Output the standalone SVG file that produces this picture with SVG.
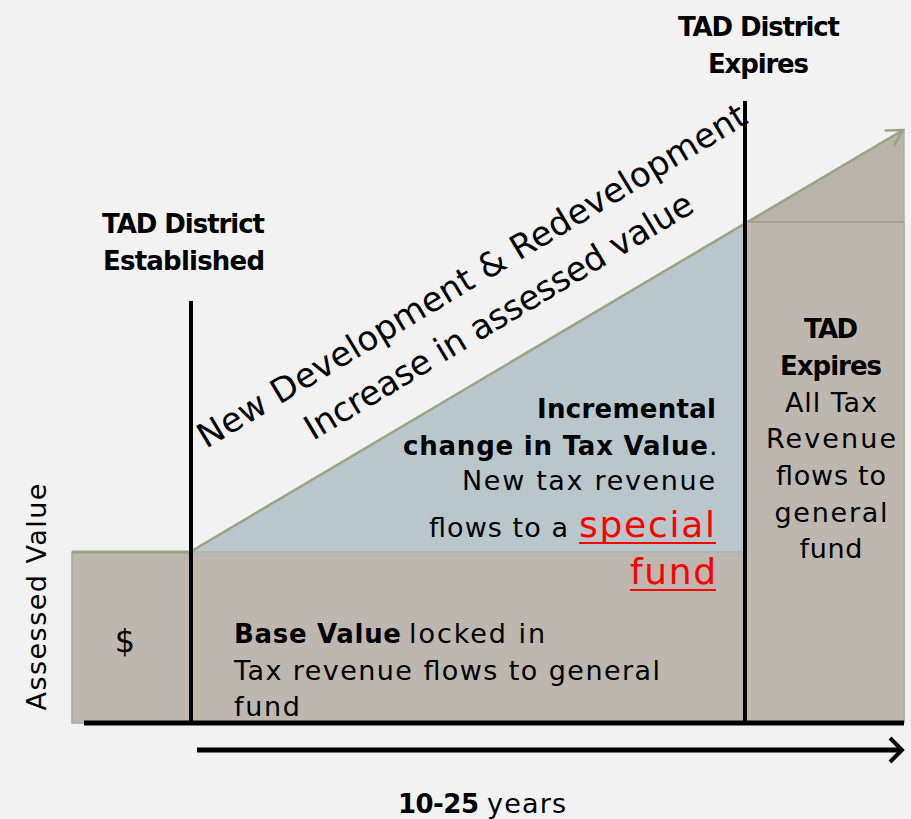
<svg xmlns="http://www.w3.org/2000/svg" width="911" height="819" viewBox="0 0 911 819">
  <style>
    text { font-family: "DejaVu Sans", "Liberation Sans", sans-serif; fill: #000; }
    .b { font-weight: bold; font-size: 26px; }
    .r { font-size: 27px; }
    .red { font-size: 36px; fill: #ff0000; }
    .slant { font-size: 34px; }
    .axis { stroke: #000; stroke-width: 5; fill: none; }
    .mark { stroke: #000; stroke-width: 4; fill: none; }
    .block { fill: #bdb7b0; }
  </style>
  <defs>
    <marker id="openHead" markerWidth="20" markerHeight="20" refX="17" refY="10" orient="auto" markerUnits="userSpaceOnUse">
      <polyline points="1,1 17,10 1,19" fill="none" stroke="#9aa384" stroke-width="2.5"/>
    </marker>
  </defs>

  <rect x="0" y="0" width="911" height="819" fill="#f2f2f2"/>

  <!-- base value before the district -->
  <g id="pre-district">
    <rect class="block" x="72" y="552" width="118" height="171" stroke="#aaa59c" stroke-width="1.5"/>
    <text x="125" y="652" text-anchor="middle" style="font-size:32px">$</text>
  </g>

  <!-- locked base value during the district -->
  <g id="base-value">
    <rect class="block" x="190" y="552" width="555" height="171"/>
    <text class="b" x="234" y="643" textLength="167">Base Value</text>
    <text class="r" x="409" y="643" textLength="136">locked in</text>
    <text class="r" x="234" y="680" textLength="426">Tax revenue flows to general</text>
    <text class="r" x="234" y="716" textLength="66">fund</text>
  </g>

  <!-- increment above the base -->
  <g id="increment">
    <polygon points="190,552 745,223 745,552" fill="#b9c6cb"/>
    <line x1="190" y1="552" x2="745" y2="552" stroke="#a9b4b7" stroke-width="1.5"/>
    <text class="b" x="537" y="418" textLength="179">Incremental</text>
    <text class="b" x="403" y="455" textLength="305">change in Tax Value</text>
    <text class="r" x="709" y="455">.</text>
    <text class="r" x="462" y="490" textLength="253">New tax revenue</text>
    <text class="r" x="429" y="537" textLength="139">flows to a</text>
    <text class="red" x="579" y="537" textLength="136">special</text>
    <line x1="579" y1="543" x2="716" y2="543" stroke="#ff0000" stroke-width="2"/>
    <text class="red" x="630" y="584" textLength="86">fund</text>
    <line x1="630" y1="590" x2="716" y2="590" stroke="#ff0000" stroke-width="2"/>
  </g>

  <!-- after expiry -->
  <g id="post-district">
    <rect class="block" x="745" y="222" width="160" height="501"/>
    <polygon points="745,223 904,129 904,222" fill="#b9b3ab"/>
    <line x1="745" y1="222" x2="904" y2="222" stroke="#a7a28f" stroke-width="2"/>
    <line x1="904" y1="129" x2="904" y2="723" stroke="#b3aea4" stroke-width="1.5"/>
    <text class="b" x="831" y="338" text-anchor="middle" textLength="54">TAD</text>
    <text class="b" x="831" y="375" text-anchor="middle" textLength="102">Expires</text>
    <text class="r" x="831" y="412" text-anchor="middle" textLength="92">All Tax</text>
    <text class="r" x="831" y="448" text-anchor="middle" textLength="130">Revenue</text>
    <text class="r" x="831" y="485" text-anchor="middle" textLength="110">flows to</text>
    <text class="r" x="831" y="522" text-anchor="middle" textLength="113">general</text>
    <text class="r" x="831" y="558" text-anchor="middle" textLength="63">fund</text>
  </g>

  <!-- milestone labels -->
  <g id="established-label">
    <text class="b" x="102" y="233" textLength="163">TAD District</text>
    <text class="b" x="103" y="270" textLength="162">Established</text>
  </g>
  <g id="expires-label">
    <text class="b" x="678" y="36" textLength="162">TAD District</text>
    <text class="b" x="708" y="73" textLength="101">Expires</text>
  </g>

  <!-- growth caption -->
  <g id="growth-caption">
    <text class="slant" transform="translate(206,449) rotate(-31)" textLength="634">New Development &amp; Redevelopment</text>
    <text class="slant" transform="translate(313,441) rotate(-31)" textLength="447">Increase in assessed value</text>
  </g>

  <!-- axis labels -->
  <g id="y-label">
    <text class="r" transform="translate(46,597) rotate(-90)" text-anchor="middle" textLength="227">Assessed Value</text>
  </g>
  <g id="x-label">
    <text class="b" x="398" y="813" textLength="81">10-25</text>
    <text class="r" x="487" y="813" textLength="79">years</text>
  </g>

  <!-- connectors and axes -->
  <g id="connectors">
    <line x1="72" y1="552" x2="190" y2="552" stroke="#9aa384" stroke-width="3"/>
    <line x1="190" y1="552" x2="903" y2="130" stroke="#9aa384" stroke-width="2.5" marker-end="url(#openHead)"/>
    <line class="mark" x1="191" y1="301" x2="191" y2="723"/>
    <line class="mark" x1="745" y1="101" x2="745" y2="723"/>
    <line class="axis" x1="84" y1="723" x2="904" y2="723"/>
    <line class="axis" x1="197" y1="750" x2="900" y2="750"/>
    <polyline class="mark" points="890,738 902,750 890,762"/>
  </g>
</svg>
